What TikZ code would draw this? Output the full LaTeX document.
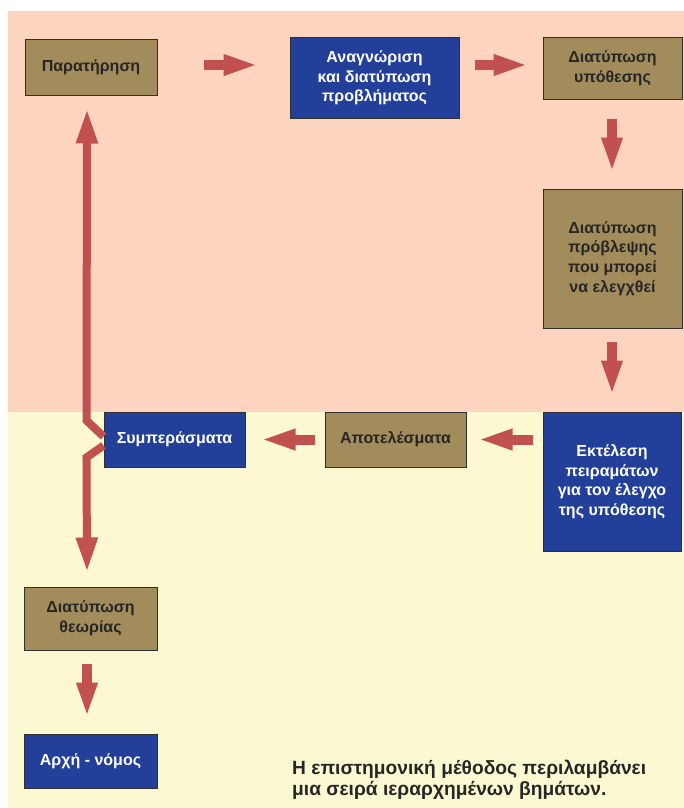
\documentclass[tikz,border=0pt]{standalone}
\usepackage{fontspec}
\setmainfont{Liberation Sans}
\usetikzlibrary{arrows.meta,calc}
\definecolor{bgpink}{HTML}{FCD4C0}
\definecolor{bgyellow}{HTML}{FCF9D2}
\definecolor{boxbrown}{HTML}{A38C5C}
\definecolor{boxblue}{HTML}{22409A}
\definecolor{arrowred}{HTML}{C0514F}
\definecolor{boxline}{HTML}{2F2F2F}
\begin{document}
\begin{tikzpicture}[x=1pt,y=-1pt,
  stepbase/.style={draw=boxline,line width=1pt,inner sep=0pt,align=center,
    font=\fontsize{16}{19.6}\selectfont\bfseries},
  brownbox/.style={stepbase,fill=boxbrown,text=black!85},
  bluebox/.style={stepbase,fill=boxblue,text=white},
  blockarrow/.style={draw=arrowred,line width=10pt,
    -{Triangle[length=35pt,width=19pt]}},
  longarrow/.style={draw=arrowred,line width=8pt,
    -{Triangle[length=35pt,width=20pt]}}]
\useasboundingbox (0,0) rectangle (684,808);
\fill[bgpink] (8,11) rectangle (684,412);
\fill[bgyellow] (8,412) rectangle (684,808);

\node[brownbox,minimum width=132pt,minimum height=55pt] (obs) at (91,67.5) {Παρατήρηση};
\node[bluebox,minimum width=169pt,minimum height=80pt] (prob) at (374.5,78) {Αναγνώριση\\και διατύπωση\\προβλήματος};
\node[brownbox,minimum width=139pt,minimum height=61pt] (hyp) at (612.5,68.5) {Διατύπωση\\υπόθεσης};
\node[brownbox,minimum width=139pt,minimum height=139pt] (pred) at (612.5,258.5) {Διατύπωση\\πρόβλεψης\\που μπορεί\\να ελεγχθεί};
\node[bluebox,minimum width=138pt,minimum height=139pt] (exp) at (612,481.5) {Εκτέλεση\\πειραμάτων\\για τον έλεγχο\\της υπόθεσης};
\node[brownbox,minimum width=141pt,minimum height=55pt] (res) at (395.5,439.5) {Αποτελέσματα};
\node[bluebox,minimum width=141pt,minimum height=55pt] (conc) at (174.5,439.5) {Συμπεράσματα};
\node[brownbox,minimum width=133pt,minimum height=63pt] (theory) at (90.5,618.5) {Διατύπωση\\θεωρίας};
\node[bluebox,minimum width=133pt,minimum height=54pt] (law) at (90.5,761) {Αρχή - νόμος};

\node[anchor=base west,align=left,inner sep=0pt,text=black!85,
  font=\fontsize{19.2}{20.5}\selectfont\bfseries] (note) at (292,795)
  {Η επιστημονική μέθοδος περιλαμβάνει\\μια σειρά ιεραρχημένων βημάτων.};

\draw[blockarrow] ($(obs.east)+(46,-2.5)$) -- ($(prob.west)+(-31,-13)$);
\draw[blockarrow] ($(prob.east)+(15,-13)$) -- ($(hyp.west)+(-14,-3.5)$);
\draw[blockarrow] ($(hyp.south)+(-0.5,19)$) -- ($(pred.north)+(-0.5,-16)$);
\draw[blockarrow] ($(pred.south)+(-0.5,13)$) -- ($(exp.north)+(0,-16)$);
\draw[blockarrow] ($(exp.west|-res.east)+(-10,0)$) -- ($(res.east)+(11,0)$);
\draw[blockarrow] ($(res.west)+(-10,0)$) -- ($(conc.east)+(15,0)$);
\draw[blockarrow] ($(theory.south)+(-3.5,13)$) -- ($(law.north)+(-3.5,-16)$);

\draw[longarrow] ($(conc.west)+(0,-3)$) -- ++(-17,-16) -- ($(obs.south)+(-4,13)$);
\draw[longarrow] ($(conc.west)+(0,6)$) -- ++(-17,12) -- ($(theory.north)+(-3.5,-14)$);
\end{tikzpicture}
\end{document}
